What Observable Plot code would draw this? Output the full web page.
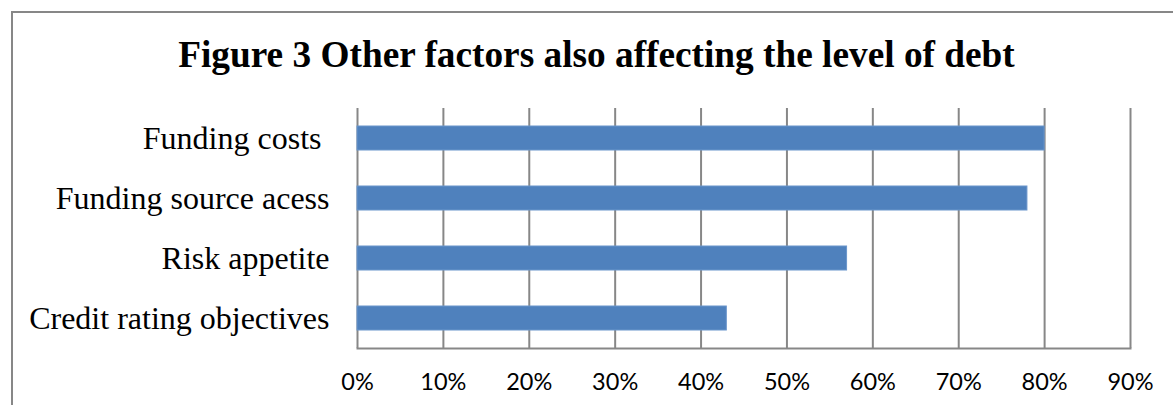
<!DOCTYPE html>
<html>
<head>
<meta charset="utf-8">
<script src="https://cdn.jsdelivr.net/npm/d3@7"></script>
<script src="https://cdn.jsdelivr.net/npm/@observablehq/plot@0.6"></script>
<style>
  html, body { margin: 0; padding: 0; background: #fff; }
  #page { position: relative; width: 1173px; height: 405px; overflow: hidden; background: #fff; }
  #border { position: absolute; left: 11px; top: 11px; width: 1300px; height: 600px;
            border-left: 2px solid #878787; border-top: 2px solid #878787; }
  #title { position: absolute; left: 0; width: 1193px; top: 33px; text-align: center;
           font-family: "Liberation Serif", "Times New Roman", serif; font-weight: bold;
           font-size: 37.3px; color: #000; white-space: nowrap; }
  #chart { position: absolute; left: 0; top: 90px; }
  #chart svg text { white-space: pre; }
</style>
</head>
<body>
<div id="page">
  <div id="border"></div>
  <div id="title">Figure 3 Other factors also affecting the level of debt</div>
  <div id="chart"></div>
</div>
<script>
// Share of respondents citing each factor (%)
const categories = ["Funding costs ", "Funding source acess", "Risk appetite", "Credit rating objectives"];
const shares = [80, 78, 57, 43];
const xTicks = [0, 10, 20, 30, 40, 50, 60, 70, 80, 90];

const rows = categories.map((c, i) => ({category: c, share: shares[i]}));

const chart = Plot.plot({
  width: 1173,
  height: 315,
  marginTop: 18,
  marginBottom: 57,
  marginLeft: 357,
  marginRight: 43,
  style: {background: "transparent", color: "#000", overflow: "visible"},
  x: {domain: [0, 90], ticks: xTicks},
  y: {domain: categories, paddingInner: 0.6, paddingOuter: 0.3},
  marks: [
    Plot.ruleX(xTicks, {stroke: "#878787", strokeWidth: 2, strokeOpacity: 1}),
    Plot.frame({anchor: "bottom", stroke: "#878787", strokeWidth: 2}),
    Plot.barX(rows, {x: "share", y: "category", fill: "#4f81bd", stroke: "#6b96cb", strokeWidth: 1}),
    Plot.axisX(xTicks, {
      tickSize: 0, tickPadding: 25, tickFormat: d => d + "%",
      fontFamily: "Lato, 'Open Sans', sans-serif", fontSize: 23.5, fill: "#000", label: null
    }),
    Plot.axisY({
      tickSize: 0, tickPadding: 28,
      fontFamily: "'Liberation Serif', 'Times New Roman', serif", fontSize: 32, fill: "#000", label: null
    })
  ]
});
document.getElementById("chart").appendChild(chart);
</script>
</body>
</html>
